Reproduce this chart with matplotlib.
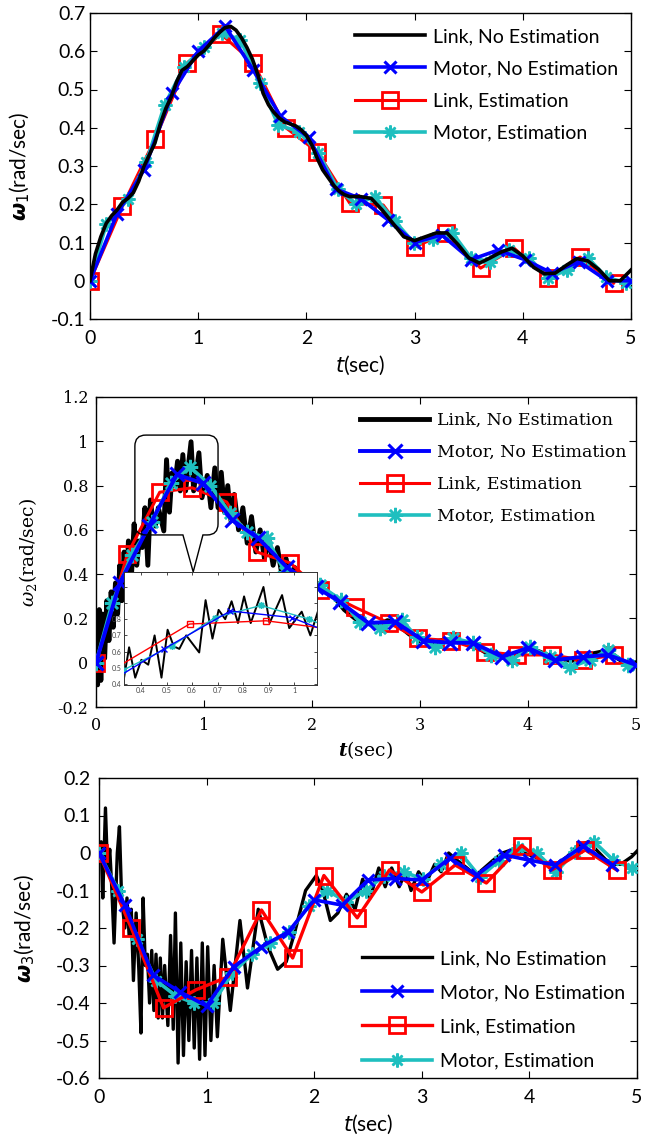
import numpy as np
import matplotlib
matplotlib.use('Agg')
import matplotlib.pyplot as plt
from matplotlib.path import Path
from matplotlib.patches import PathPatch

W, H = 646, 1137
BLACK, BLUE, RED, CYAN = '#000000', '#0000ff', '#ff0000', '#1fbfbf'
LABELS = ['Link, No Estimation', 'Motor, No Estimation', 'Link, Estimation', 'Motor, Estimation']
ASTER = (8, 2, 0)

# ---------------- omega_1 ----------------
w1_link_t = [0, 0.05, 0.1, 0.15, 0.2, 0.25, 0.3, 0.35, 0.4, 0.45, 0.5, 0.55, 0.6, 0.65, 0.7, 0.75, 0.8,
             0.85, 0.9, 0.95, 1.0, 1.05, 1.1, 1.15, 1.2, 1.25, 1.3, 1.35, 1.4, 1.45, 1.5, 1.55, 1.6, 1.65,
             1.7, 1.75, 1.8, 1.85, 1.9, 1.95, 2.0, 2.05, 2.1, 2.15, 2.2, 2.25, 2.3, 2.35, 2.4, 2.5, 2.6,
             2.7, 2.8, 2.9, 3.0, 3.1, 3.2, 3.3, 3.4, 3.5, 3.6, 3.7, 3.8, 3.9, 4.0, 4.1, 4.2, 4.3, 4.4,
             4.5, 4.6, 4.7, 4.8, 4.9, 5.0]
w1_link_y = [0, 0.07, 0.115, 0.15, 0.17, 0.185, 0.205, 0.215, 0.23, 0.26, 0.30, 0.33, 0.36, 0.41, 0.45,
             0.48, 0.52, 0.55, 0.56, 0.575, 0.59, 0.60, 0.616, 0.635, 0.65, 0.662, 0.665, 0.655, 0.635,
             0.61, 0.58, 0.54, 0.49, 0.46, 0.44, 0.425, 0.415, 0.41, 0.405, 0.395, 0.38, 0.355, 0.32,
             0.29, 0.27, 0.25, 0.235, 0.225, 0.22, 0.22, 0.215, 0.185, 0.15, 0.115, 0.105, 0.115, 0.125,
             0.125, 0.095, 0.06, 0.046, 0.06, 0.075, 0.085, 0.065, 0.035, 0.018, 0.02, 0.04, 0.058,
             0.052, 0.03, 0.0, 0.0, 0.028]
w1_motor_t = [0, 0.25, 0.5, 0.76, 1.0, 1.25, 1.51, 1.76, 2.02, 2.27, 2.5, 2.75, 3.0, 3.25, 3.52, 3.77,
              4.02, 4.27, 4.52, 4.78, 5.0]
w1_motor_y = [0, 0.175, 0.29, 0.49, 0.60, 0.665, 0.55, 0.43, 0.375, 0.24, 0.215, 0.16, 0.10, 0.12,
              0.055, 0.08, 0.055, 0.02, 0.05, 0.0, 0.0]
w1_elink_t = [0, 0.3, 0.6, 0.9, 1.21, 1.51, 1.81, 2.1, 2.4, 2.71, 3.0, 3.29, 3.61, 3.92, 4.23, 4.53, 4.84]
w1_elink_y = [0, 0.195, 0.37, 0.57, 0.645, 0.57, 0.40, 0.337, 0.203, 0.198, 0.088, 0.125, 0.033, 0.085,
              0.007, 0.062, -0.006]
w1_emotor_t = [0, 0.15, 0.35, 0.52, 0.69, 0.87, 1.05, 1.22, 1.39, 1.57, 1.74, 1.93, 2.11, 2.29, 2.46,
               2.63, 2.82, 2.99, 3.17, 3.35, 3.52, 3.70, 3.87, 4.06, 4.23, 4.41, 4.60, 4.77, 4.95]
w1_emotor_y = [0, 0.148, 0.213, 0.31, 0.46, 0.56, 0.61, 0.648, 0.63, 0.517, 0.407, 0.39, 0.334, 0.24,
               0.20, 0.22, 0.155, 0.10, 0.11, 0.125, 0.06, 0.05, 0.08, 0.06, 0.007, 0.028, 0.06, 0.01,
               -0.006]
w1_yticks = [-0.1, 0, 0.1, 0.2, 0.3, 0.4, 0.5, 0.6, 0.7]
w1_ylabels = ['-0.1', '0', '0.1', '0.2', '0.3', '0.4', '0.5', '0.6', '0.7']

# ---------------- omega_2 ----------------
w2_link_t = [0.0, 0.015, 0.03, 0.045, 0.06, 0.08, 0.10, 0.12, 0.14, 0.16, 0.18, 0.20, 0.22, 0.24, 0.26,
             0.28, 0.30, 0.315, 0.328, 0.353, 0.377, 0.401, 0.428, 0.453, 0.48, 0.504, 0.528, 0.55,
             0.577, 0.628, 0.653, 0.68, 0.704, 0.73, 0.755, 0.78, 0.804, 0.83, 0.88, 0.904, 0.953, 0.981,
             1.03, 1.064, 1.10, 1.13, 1.16, 1.19, 1.22, 1.25, 1.28, 1.32, 1.36, 1.40, 1.44, 1.48, 1.52,
             1.56, 1.60, 1.64, 1.68, 1.72, 1.76, 1.80, 1.84, 1.88, 1.92, 1.96, 2.0, 2.1, 2.2, 2.3, 2.4,
             2.5, 2.6, 2.7, 2.8, 2.9, 3.0, 3.1, 3.2, 3.3, 3.4, 3.5, 3.6, 3.7, 3.8, 3.9, 4.0, 4.1, 4.2,
             4.3, 4.4, 4.5, 4.6, 4.7, 4.8, 4.9, 5.0]
w2_link_y = [0.0, -0.10, 0.24, -0.08, 0.22, 0.02, 0.28, 0.10, 0.32, 0.16, 0.36, 0.22, 0.44, 0.28, 0.50,
             0.32, 0.55, 0.45, 0.39, 0.627, 0.44, 0.55, 0.52, 0.70, 0.44, 0.735, 0.633, 0.617, 0.70,
             0.595, 0.917, 0.68, 0.857, 0.80, 0.91, 0.776, 0.94, 0.776, 0.998, 0.776, 0.948, 0.745,
             0.846, 0.70, 0.88, 0.70, 0.86, 0.68, 0.80, 0.64, 0.76, 0.60, 0.70, 0.54, 0.66, 0.50, 0.60,
             0.47, 0.56, 0.44, 0.52, 0.40, 0.47, 0.37, 0.43, 0.34, 0.39, 0.32, 0.35, 0.33, 0.30, 0.24,
             0.20, 0.18, 0.17, 0.19, 0.17, 0.13, 0.10, 0.09, 0.10, 0.10, 0.09, 0.08, 0.05, 0.03, 0.03,
             0.04, 0.06, 0.05, 0.03, 0.02, 0.01, 0.02, 0.04, 0.05, 0.03, 0.0, 0.0]
w2_motor_t = [0, 0.22, 0.49, 0.75, 0.99, 1.26, 1.5, 1.77, 2.04, 2.26, 2.52, 2.77, 3.03, 3.28, 3.49, 3.76,
              4.0, 4.25, 4.51, 4.74, 5.0]
w2_motor_y = [0, 0.36, 0.617, 0.85, 0.81, 0.645, 0.563, 0.43, 0.34, 0.274, 0.18, 0.185, 0.10, 0.09, 0.09,
              0.027, 0.067, 0.012, 0.027, 0.035, -0.01]
w2_elink_t = [0, 0.29, 0.59, 0.89, 1.21, 1.49, 1.8, 2.07, 2.4, 2.71, 2.98, 3.29, 3.6, 3.9, 4.22, 4.51, 4.8]
w2_elink_y = [0, 0.49, 0.77, 0.79, 0.726, 0.50, 0.45, 0.33, 0.25, 0.18, 0.11, 0.10, 0.05, 0.035, 0.035,
              0.012, 0.035]
w2_emotor_t = [0, 0.15, 0.33, 0.52, 0.69, 0.87, 1.06, 1.24, 1.4, 1.58, 1.75, 1.92, 2.07, 2.27, 2.44, 2.63,
               2.83, 2.97, 3.14, 3.31, 3.49, 3.66, 3.85, 4.02, 4.2, 4.39, 4.57, 4.74, 4.93]
w2_emotor_y = [0, 0.27, 0.487, 0.635, 0.81, 0.884, 0.80, 0.675, 0.59, 0.563, 0.41, 0.37, 0.35, 0.283,
               0.184, 0.157, 0.193, 0.116, 0.071, 0.11, 0.09, 0.035, 0.012, 0.071, 0.026, -0.02, 0.012,
               0.057, -0.01]
w2_yticks = [-0.2, 0, 0.2, 0.4, 0.6, 0.8, 1.0, 1.2]
w2_ylabels = ['-0.2', '0', '0.2', '0.4', '0.6', '0.8', '1', '1.2']
zoom_xticks = [0.4, 0.5, 0.6, 0.7, 0.8, 0.9, 1.0]
zoom_xlabels = ['0.4', '0.5', '0.6', '0.7', '0.8', '0.9', '1']
zoom_yticks = [0.4, 0.5, 0.6, 0.7, 0.8, 0.9, 1.0]
zoom_ylabels = ['0.4', '0.5', '0.6', '0.7', '0.8', '', '']

# ---------------- omega_3 ----------------
w3_link_t = [0.00, 0.02, 0.035, 0.06, 0.08, 0.10, 0.12, 0.14, 0.17, 0.19, 0.21, 0.24, 0.26, 0.28, 0.30,
             0.32, 0.345, 0.37, 0.39, 0.41, 0.43, 0.45, 0.47, 0.49, 0.51, 0.53, 0.55, 0.57, 0.59, 0.61,
             0.64, 0.665, 0.69, 0.71, 0.735, 0.76, 0.785, 0.81, 0.835, 0.86, 0.885, 0.91, 0.935, 0.96,
             0.985, 1.01, 1.04, 1.07, 1.10, 1.15, 1.22, 1.31, 1.38, 1.48, 1.57, 1.66, 1.74, 1.82, 1.92,
             2.02, 2.08, 2.15, 2.22, 2.30, 2.38, 2.45, 2.52, 2.60, 2.66, 2.72, 2.79, 2.85, 2.90, 2.97,
             3.04, 3.12, 3.18, 3.25, 3.33, 3.42, 3.50, 3.58, 3.66, 3.75, 3.85, 3.95, 4.05, 4.15, 4.25,
             4.35, 4.45, 4.55, 4.65, 4.75, 4.85, 4.95, 5.0]
w3_link_y = [0.00, 0.03, -0.12, 0.12, -0.05, 0.01, -0.10, -0.24, 0.00, 0.07, -0.12, -0.20, -0.12, -0.22,
             -0.15, -0.34, -0.16, -0.31, -0.48, -0.12, -0.30, -0.27, -0.40, -0.26, -0.42, -0.27, -0.44,
             -0.28, -0.44, -0.30, -0.46, -0.22, -0.47, -0.16, -0.56, -0.24, -0.54, -0.29, -0.50, -0.26,
             -0.52, -0.28, -0.55, -0.24, -0.54, -0.25, -0.50, -0.30, -0.49, -0.23, -0.42, -0.18, -0.36,
             -0.15, -0.25, -0.31, -0.29, -0.21, -0.10, -0.06, -0.10, -0.18, -0.16, -0.11, -0.15, -0.07,
             -0.12, -0.04, -0.09, -0.04, -0.09, -0.05, -0.10, -0.05, -0.08, -0.03, -0.05, 0.00, -0.02,
             -0.04, -0.06, -0.04, -0.02, 0.00, 0.01, 0.00, -0.01, -0.03, -0.03, -0.01, 0.02, 0.03, 0.00,
             -0.03, -0.03, -0.01, 0.005]
w3_motor_t = [0, 0.24, 0.5, 0.75, 1.0, 1.25, 1.51, 1.76, 2.0, 2.26, 2.5, 2.75, 3.0, 3.26, 3.51, 3.76, 4.0,
              4.24, 4.5, 4.77]
w3_motor_y = [0, -0.139, -0.325, -0.37, -0.408, -0.304, -0.25, -0.21, -0.125, -0.139, -0.072, -0.068,
              -0.072, -0.014, -0.059, -0.005, -0.019, -0.032, 0.019, -0.032]
w3_elink_t = [0, 0.3, 0.6, 0.9, 1.2, 1.51, 1.8, 2.09, 2.4, 2.7, 3.0, 3.31, 3.6, 3.93, 4.21, 4.52, 4.81]
w3_elink_y = [0, -0.2, -0.413, -0.365, -0.33, -0.152, -0.28, -0.06, -0.173, -0.045, -0.104, -0.032,
              -0.08, 0.02, -0.045, 0.008, -0.045]
w3_emotor_t = [0, 0.18, 0.35, 0.53, 0.71, 0.88, 1.06, 1.24, 1.42, 1.59, 1.77, 1.95, 2.12, 2.3, 2.48, 2.65,
               2.83, 3.01, 3.18, 3.36, 3.54, 3.72, 3.89, 4.07, 4.25, 4.42, 4.6, 4.78, 4.95]
w3_emotor_y = [0, -0.10, -0.23, -0.34, -0.38, -0.40, -0.40, -0.32, -0.27, -0.24, -0.21, -0.14, -0.10,
               -0.13, -0.10, -0.06, -0.05, -0.07, -0.03, 0.0, -0.064, -0.02, 0.013, 0.0, -0.05, 0.003,
               0.03, -0.019, -0.04]
w3_yticks = [-0.6, -0.5, -0.4, -0.3, -0.2, -0.1, 0, 0.1, 0.2]
w3_ylabels = ['-0.6', '-0.5', '-0.4', '-0.3', '-0.2', '-0.1', '0', '0.1', '0.2']

t_ticks = [0, 1, 2, 3, 4, 5]


def px_axes(fig, left, top, right, bottom):
    return fig.add_axes([left / W, 1 - bottom / H, (right - left) / W, (bottom - top) / H])


def style_axes(ax, font, size, xpad, ypad, yticks, ylabels, ylim):
    ax.set_xlim(0, 5)
    ax.set_ylim(*ylim)
    ax.set_xticks(t_ticks)
    ax.set_yticks(yticks)
    ax.set_yticklabels(ylabels)
    ax.tick_params(direction='in', top=True, right=True, length=5, width=0.8,
                   labelsize=size, labelfontfamily=font)
    ax.tick_params(axis='x', pad=xpad)
    ax.tick_params(axis='y', pad=ypad)
    for s in ax.spines.values():
        s.set_linewidth(1.0)


def plot_series(ax, data, lw, ms, z):
    (lt, ly), (mt, my), (et, ey), (ct, cy) = data
    h_link = ax.plot(lt, ly, color=BLACK, lw=lw[0], zorder=z[0])[0]
    h_motor = ax.plot(mt, my, color=BLUE, lw=lw[1], marker='x', ms=ms[1], mew=2.2, zorder=z[1])[0]
    h_elink = ax.plot(et, ey, color=RED, lw=lw[2], marker='s', ms=ms[2], mfc='none', mew=2.0,
                      zorder=z[2])[0]
    h_emotor = ax.plot(ct, cy, color=CYAN, lw=lw[3], marker=ASTER, ms=ms[3], mew=1.8, zorder=z[3])[0]
    return [h_link, h_motor, h_elink, h_emotor]


fig = plt.figure(figsize=(W / 100, H / 100), dpi=100)

# ---- panel 1 ----
ax1 = px_axes(fig, 90, 13, 631, 319)
h = plot_series(ax1, [(w1_link_t, w1_link_y), (w1_motor_t, w1_motor_y),
                      (w1_elink_t, w1_elink_y), (w1_emotor_t, w1_emotor_y)],
                lw=[2.6, 2.6, 2.2, 2.6], ms=[0, 9, 11, 10], z=[6, 5, 3, 4])
style_axes(ax1, 'Lato', 14, 8, 3.5, w1_yticks, w1_ylabels, (-0.1, 0.7))
ax1.set_ylabel(r'$\mathbfit{\omega}_1$(rad/sec)', family='Lato', fontsize=15, math_fontfamily='dejavusans')
ax1.set_xlabel(r'$t$(sec)', family='Lato', fontsize=15, math_fontfamily='dejavusans')
ax1.yaxis.set_label_coords(-0.108, 0.5)
ax1.xaxis.set_label_coords(0.5, -0.115)
ax1.legend(h, LABELS, loc='upper left', bbox_to_anchor=(355 / W, 1 - 28 / H), bbox_transform=fig.transFigure,
           frameon=False, prop={'family': 'Lato', 'size': 14}, handlelength=3.6, handletextpad=0.4,
           borderpad=0, borderaxespad=0, labelspacing=0.78)

# ---- panel 2 ----
ax2 = px_axes(fig, 96, 397, 636, 707)
w2_data = [(w2_link_t, w2_link_y), (w2_motor_t, w2_motor_y),
           (w2_elink_t, w2_elink_y), (w2_emotor_t, w2_emotor_y)]
h = plot_series(ax2, w2_data, lw=[3.5, 2.8, 2.2, 2.6], ms=[0, 10, 12, 11], z=[2, 5, 3, 4])
style_axes(ax2, 'DejaVu Serif', 11.5, 7, 5.5, w2_yticks, w2_ylabels, (-0.2, 1.2))
ax2.set_ylabel(r'$\omega_2$(rad/sec)', family='DejaVu Serif', fontsize=13.5, math_fontfamily='dejavuserif')
ax2.set_xlabel(r'$\mathbfit{t}$(sec)', family='DejaVu Serif', fontsize=13.5, math_fontfamily='dejavuserif')
ax2.yaxis.set_label_coords(-0.105, 0.5)
ax2.xaxis.set_label_coords(0.5, -0.105)
ax2.legend(h, LABELS, loc='upper left', bbox_to_anchor=(360 / W, 1 - 412 / H), bbox_transform=fig.transFigure,
           frameon=False, prop={'family': 'DejaVu Serif', 'size': 12.5}, handlelength=4.0, handletextpad=0.45,
           borderpad=0, borderaxespad=0, labelspacing=0.86)

# speech-bubble callout around the peak
x0, x1, y0, y1 = 0.36, 1.13, 0.577, 1.028
rx, ry = 0.1, 0.05
b0, b1, tipx, tipy = 0.805, 0.99, 0.90, 0.41
verts = [(x0 + rx, y1), (x1 - rx, y1), (x1, y1), (x1, y1 - ry), (x1, y0 + ry), (x1, y0), (x1 - rx, y0),
         (b1, y0), (tipx, tipy), (b0, y0), (x0 + rx, y0), (x0, y0), (x0, y0 + ry), (x0, y1 - ry),
         (x0, y1), (x0 + rx, y1)]
codes = [Path.MOVETO, Path.LINETO, Path.CURVE3, Path.CURVE3, Path.LINETO, Path.CURVE3, Path.CURVE3,
         Path.LINETO, Path.LINETO, Path.LINETO, Path.LINETO, Path.CURVE3, Path.CURVE3, Path.LINETO,
         Path.CURVE3, Path.CURVE3]
ax2.add_patch(PathPatch(Path(verts, codes), facecolor='none', edgecolor='black', lw=1.0, zorder=6))

# zoomed inset
axz = px_axes(fig, 124, 572, 317, 685)
axz.plot(w2_link_t, w2_link_y, color=BLACK, lw=1.4, zorder=2)
axz.plot(w2_elink_t, w2_elink_y, color=RED, lw=1.0, marker='s', ms=4, mfc='none', mew=1.0, zorder=3)
axz.plot(w2_emotor_t, w2_emotor_y, color=CYAN, lw=1.0, marker=ASTER, ms=5, mew=1.0, zorder=4)
axz.plot(w2_motor_t, w2_motor_y, color=BLUE, lw=1.0, marker='x', ms=4, mew=1.0, zorder=5)
axz.set_xlim(0.333, 1.09)
axz.set_ylim(0.395, 1.09)
axz.set_xticks(zoom_xticks)
axz.set_xticklabels(zoom_xlabels)
axz.set_yticks(zoom_yticks)
axz.set_yticklabels(zoom_ylabels)
axz.tick_params(direction='in', top=True, right=True, length=2.5, width=0.5, labelsize=5,
                labelcolor='#444444', pad=1.5, labelfontfamily='Lato')
for s in axz.spines.values():
    s.set_linewidth(0.7)
    s.set_color('#333333')

# ---- panel 3 ----
ax3 = px_axes(fig, 99, 778, 637, 1078)
h = plot_series(ax3, [(w3_link_t, w3_link_y), (w3_motor_t, w3_motor_y),
                      (w3_elink_t, w3_elink_y), (w3_emotor_t, w3_emotor_y)],
                lw=[2.4, 2.6, 2.4, 2.6], ms=[0, 9, 11, 10], z=[2, 5, 4, 3])
style_axes(ax3, 'Lato', 14, 8, 6, w3_yticks, w3_ylabels, (-0.6, 0.2))
ax3.set_ylabel(r'$\mathbfit{\omega}_3$(rad/sec)', family='Lato', fontsize=15, math_fontfamily='dejavusans')
ax3.set_xlabel(r'$t$(sec)', family='Lato', fontsize=15, math_fontfamily='dejavusans')
ax3.yaxis.set_label_coords(-0.115, 0.5)
ax3.xaxis.set_label_coords(0.5, -0.115)
ax3.legend(h, LABELS, loc='upper left', bbox_to_anchor=(362 / W, 1 - 950 / H), bbox_transform=fig.transFigure,
           frameon=False, prop={'family': 'Lato', 'size': 14}, handlelength=3.6, handletextpad=0.4,
           borderpad=0, borderaxespad=0, labelspacing=0.88)

fig.savefig('out.png', dpi=100)
